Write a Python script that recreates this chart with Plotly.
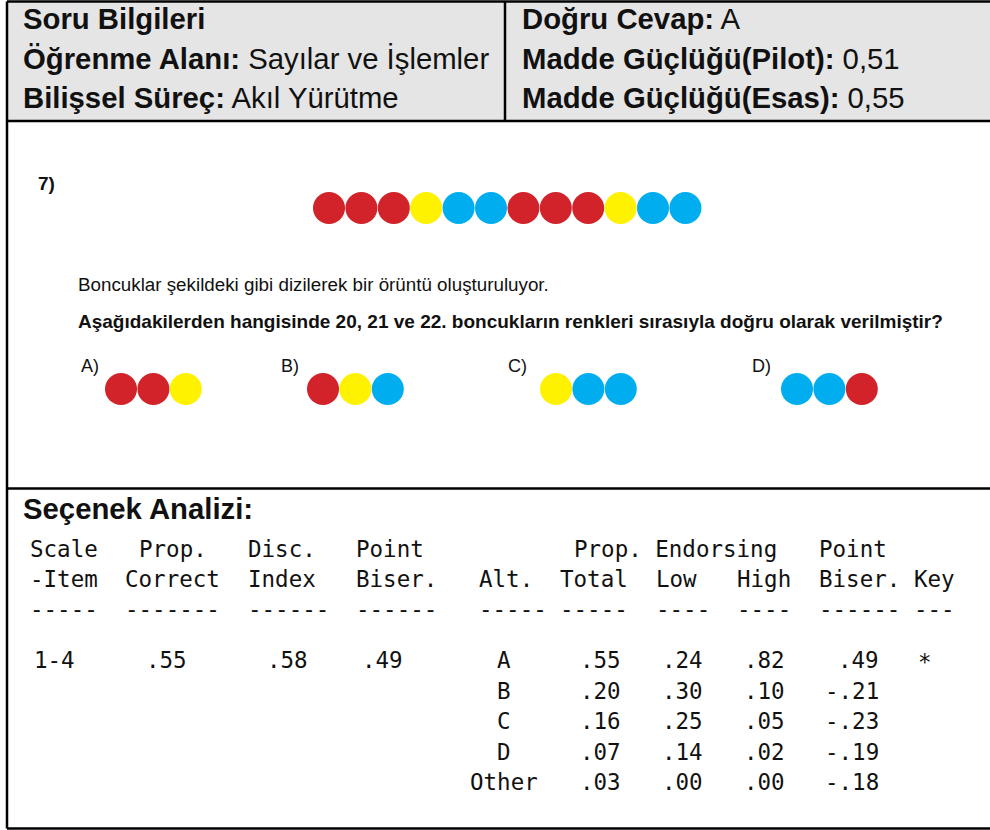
import plotly.graph_objects as go

W, H = 990, 830

# ---------------- data ----------------
info_left_labels = ["Soru Bilgileri", "Öğrenme Alanı:", "Bilişsel Süreç:"]
info_left_values = ["", "Sayılar ve İşlemler", "Akıl Yürütme"]
info_right_labels = ["Doğru Cevap:", "Madde Güçlüğü(Pilot):", "Madde Güçlüğü(Esas):"]
info_right_values = ["A", "0,51", "0,55"]

question_number = "7)"
stem_text = "Boncuklar şekildeki gibi dizilerek bir örüntü oluşturuluyor."
question_text = ("Aşağıdakilerden hangisinde 20, 21 ve 22. boncukların renkleri "
                 "sırasıyla doğru olarak verilmiştir?")

pattern_colors = ["red", "red", "red", "yellow", "blue", "blue",
                  "red", "red", "red", "yellow", "blue", "blue"]
option_letters = ["A", "B", "C", "D"]
option_colors = [["red", "red", "yellow"],
                 ["red", "yellow", "blue"],
                 ["yellow", "blue", "blue"],
                 ["blue", "blue", "red"]]

section_title = "Seçenek Analizi:"
scale_item = "1-4"
prop_correct = 0.55
disc_index = 0.58
item_point_biser = 0.49

alternatives = ["A", "B", "C", "D", "Other"]
prop_total = [0.55, 0.20, 0.16, 0.07, 0.03]
prop_low = [0.24, 0.30, 0.25, 0.14, 0.00]
prop_high = [0.82, 0.10, 0.05, 0.02, 0.00]
alt_point_biser = [0.49, -0.21, -0.23, -0.19, -0.18]
key_marks = ["*", "", "", "", ""]

header_line1 = [("Scale", 0), ("Prop.", 8), ("Disc.", 16), ("Point", 24),
                ("Prop. Endorsing", 40), ("Point", 58)]
header_line2 = [("-Item", 0), ("Correct", 7), ("Index", 16), ("Biser.", 24),
                ("Alt.", 33), ("Total", 39), ("Low", 46), ("High", 52),
                ("Biser.", 58), ("Key", 65)]
dash_runs = [(5, 0), (7, 7), (6, 16), (6, 24), (5, 33), (5, 39), (4, 46),
             (4, 52), (6, 58), (3, 65)]

# ---------------- style ----------------
COLOR_MAP = {"red": "#d2232a", "yellow": "#fff200", "blue": "#00aeef"}
SANS = "Liberation Sans, Arial, Helvetica, sans-serif"
MONO = "DejaVu Sans Mono, Consolas, monospace"
TXT = "#111111"


def fmt(v):
    s = f"{v:.2f}"
    return s.replace("0.", ".", 1)


fig = go.Figure()

# ---------- frame ----------
shapes = [
    dict(type="rect", x0=7, x1=995, y0=1.5, y1=121, fillcolor="#e5e5e5",
         line=dict(width=0), layer="below"),
]
line_style = dict(color="#000000", width=2.5)
for (x0, y0, x1, y1) in [(7, 1.5, 995, 1.5), (7, 1.5, 7, 828.5),
                         (7, 121, 995, 121), (505, 1.5, 505, 121),
                         (7, 488.5, 995, 488.5), (7, 828.5, 995, 828.5)]:
    shapes.append(dict(type="line", x0=x0, y0=y0, x1=x1, y1=y1, line=line_style))

annotations = []


def add_text(x, y, text, size, family=SANS, xanchor="left", color=TXT):
    annotations.append(dict(x=x, y=y, xref="x", yref="y", text=text,
                            showarrow=False, xanchor=xanchor, yanchor="middle",
                            font=dict(family=family, size=size, color=color)))


# ---------- header ----------
HS = 29.3
row_y = [18, 58, 97]
for i in range(3):
    lab, val = info_left_labels[i], info_left_values[i]
    add_text(21, row_y[i], f"<b>{lab}</b>" + (f" {val}" if val else ""), HS)
    add_text(520, row_y[i], f"<b>{info_right_labels[i]}</b> {info_right_values[i]}", HS)

# ---------- question ----------
add_text(36, 183, f"<b>{question_number}</b>", 19)
add_text(76, 284, stem_text, 18.8)
add_text(76, 321, f"<b>{question_text}</b>", 19)

bead_x0, bead_step, bead_y, bead_d = 329, 32.4, 208, 32
fig.add_trace(go.Scatter(
    x=[bead_x0 + i * bead_step for i in range(len(pattern_colors))],
    y=[bead_y] * len(pattern_colors),
    mode="markers",
    marker=dict(size=bead_d, color=[COLOR_MAP[c] for c in pattern_colors],
                line=dict(width=0)),
    hoverinfo="skip", showlegend=False))

opt_bead_x0 = [121, 323, 556, 797]
opt_label_x = [79, 279, 506, 750]
opt_y, opt_label_y = 389, 366
for k, letter in enumerate(option_letters):
    add_text(opt_label_x[k], opt_label_y, f"{letter})", 18)
    cols = option_colors[k]
    fig.add_trace(go.Scatter(
        x=[opt_bead_x0[k] + j * bead_step for j in range(len(cols))],
        y=[opt_y] * len(cols),
        mode="markers",
        marker=dict(size=bead_d, color=[COLOR_MAP[c] for c in cols],
                    line=dict(width=0)),
        hoverinfo="skip", showlegend=False))

# ---------- option analysis ----------
add_text(21, 508, f"<b>{section_title}</b>", HS)

cw, gx0 = 13.6, 28
MS = 22.5
for txt, col in header_line1:
    add_text(gx0 + col * cw, 549, txt, MS, family=MONO)
for txt, col in header_line2:
    add_text(gx0 + col * cw, 579, txt, MS, family=MONO)
for n, col in dash_runs:
    add_text(gx0 + col * cw, 609, "-" * n, MS, family=MONO)

row0, row_step = 660, 30.5
add_text(77, row0, scale_item, MS, family=MONO, xanchor="right")
add_text(189, row0, fmt(prop_correct), MS, family=MONO, xanchor="right")
add_text(310, row0, fmt(disc_index), MS, family=MONO, xanchor="right")
add_text(405, row0, fmt(item_point_biser), MS, family=MONO, xanchor="right")

for i, alt in enumerate(alternatives):
    y = row0 + i * row_step
    add_text(504, y, alt, MS, family=MONO, xanchor="center")
    add_text(623, y, fmt(prop_total[i]), MS, family=MONO, xanchor="right")
    add_text(705, y, fmt(prop_low[i]), MS, family=MONO, xanchor="right")
    add_text(787, y, fmt(prop_high[i]), MS, family=MONO, xanchor="right")
    add_text(881, y, fmt(alt_point_biser[i]), MS, family=MONO, xanchor="right")
    if key_marks[i]:
        add_text(925, y + 2, key_marks[i], MS, family=MONO, xanchor="center")

fig.update_layout(
    width=W, height=H,
    margin=dict(l=0, r=0, t=0, b=0),
    paper_bgcolor="white", plot_bgcolor="white",
    xaxis=dict(range=[0, W], visible=False, fixedrange=True),
    yaxis=dict(range=[H, 0], visible=False, fixedrange=True),
    shapes=shapes, annotations=annotations,
    showlegend=False,
)

fig.write_html("out.html", config={"displayModeBar": False},
               post_script="document.body.style.margin='0';document.body.style.overflow='hidden';")
